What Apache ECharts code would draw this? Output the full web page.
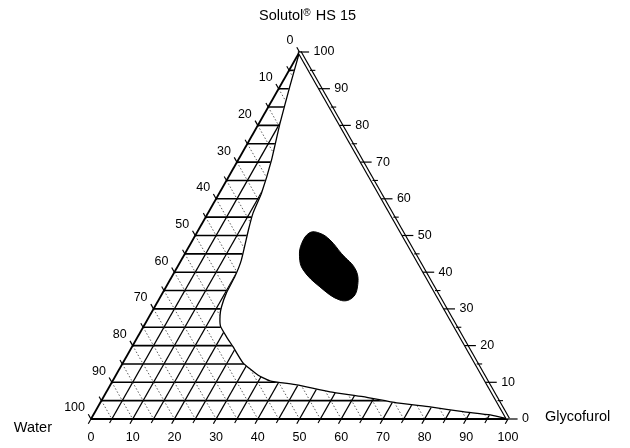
<!DOCTYPE html>
<html><head><meta charset="utf-8">
<script src="https://cdn.jsdelivr.net/npm/echarts@6/dist/echarts.min.js"></script>
<style>html,body{margin:0;padding:0;background:#fff}#c{width:630px;height:448px}</style>
</head><body><div id="c"></div>
<script>
// ---- vertex names ----
const titleMain = 'Solutol';
const titleSup = '®';
const titleRest = ' HS 15';
const leftName = 'Water';
const rightName = 'Glycofurol';

// ---- tick values (percent) ----
const majorTicks = [0, 10, 20, 30, 40, 50, 60, 70, 80, 90, 100];
const minorTicks = [5, 15, 25, 35, 45, 55, 65, 75, 85, 95];
const gridSteps = [5, 10, 15, 20, 25, 30, 35, 40, 45, 50, 55, 60, 65, 70, 75, 80, 85, 90, 95];

// ---- phase boundary of hatched region (Solutol %, Glycofurol %; Water = rest) ----
const boundarySolutol = [100, 90.5, 80.7, 70.6, 61.6, 56.1, 51.5, 43.3, 38.8, 34.3, 30.6, 28.3, 25.3, 22.4, 19.7, 15.3, 12.0, 10.4, 9.3, 7.4, 6.1, 4.4, 3.3, 2.0, 1.1, 0];
const boundaryGlycofurol = [0, 2.4, 5.0, 8.0, 10.1, 10.8, 12.0, 14.4, 15.1, 15.3, 16.0, 16.8, 18.4, 21.3, 24.2, 28.8, 34.0, 37.7, 44.7, 53.6, 62.2, 71.1, 79.7, 88.2, 95.2, 100];

// ---- black region (Solutol %, Glycofurol %) ----
const blobSolutol = [50.8, 47.9, 44.2, 40.6, 36.0, 32.4, 32.9, 36.0, 40.6, 45.1, 48.8, 50.6];
const blobGlycofurol = [27.1, 26.6, 27.9, 30.6, 36.9, 43.5, 46.1, 45.9, 43.2, 37.5, 32.9, 29.6];

const FONT = "'Liberation Sans', Arial, Helvetica, sans-serif";
function xy(s, g) { return [g + s / 2, s]; }
function P(api, s, g) { return api.coord(xy(s, g)); }
function seg(a, b, style) { return { type: 'line', shape: { x1: a[0], y1: a[1], x2: b[0], y2: b[1] }, style: style }; }
function txt(p, dx, dy, text, align, size, extra) {
  return { type: 'text', x: p[0] + dx, y: p[1] + dy,
    style: Object.assign({ text: String(text), fill: '#000', font: size + 'px ' + FONT,
      align: align, verticalAlign: 'middle', textAlign: align, textVerticalAlign: 'middle' }, extra || {}) };
}

const chart = echarts.init(document.getElementById('c'), null, { renderer: 'canvas' });

const series = [
  { // full triangular grid
    type: 'custom', coordinateSystem: 'cartesian2d', silent: true, clip: false, z: 1,
    data: gridSteps.map(v => [v]),
    renderItem: function (params, api) {
      const v = api.value(0);
      return { type: 'group', children: [
        seg(P(api, 100 - v, 0), P(api, 0, 100 - v), { stroke: '#333', lineWidth: 0.8, lineDash: [1.5, 2] }),
        seg(P(api, v, 0), P(api, v, 100 - v), { stroke: '#000', lineWidth: 1.6 }),
        seg(P(api, 0, v), P(api, 100 - v, v), { stroke: '#000', lineWidth: 1.3 })
      ] };
    }
  },
  { // white cover outside hatched region + boundary line
    type: 'custom', coordinateSystem: 'cartesian2d', silent: true, clip: false, z: 2,
    data: [[0]],
    renderItem: function (params, api) {
      const pts = boundarySolutol.map((s, i) => P(api, s, boundaryGlycofurol[i]));
      return { type: 'group', children: [
        { type: 'polygon', shape: { points: pts }, style: { fill: '#fff', stroke: '#fff', lineWidth: 1 } },
        { type: 'polyline', shape: { points: pts, smooth: 0.15 }, style: { fill: null, stroke: '#000', lineWidth: 1.3 } }
      ] };
    }
  },
  { // triangle edges
    type: 'custom', coordinateSystem: 'cartesian2d', silent: true, clip: false, z: 3,
    data: [[0]],
    renderItem: function (params, api) {
      const A = P(api, 100, 0), W = P(api, 0, 0), G = P(api, 0, 100);
      return { type: 'group', children: [
        seg(W, A, { stroke: '#000', lineWidth: 1.8 }),
        seg(W, G, { stroke: '#000', lineWidth: 1.8 }),
        seg(A, G, { stroke: '#000', lineWidth: 4.4 }),
        seg(A, G, { stroke: '#fff', lineWidth: 2 })
      ] };
    }
  },
  { // major ticks + labels
    type: 'custom', coordinateSystem: 'cartesian2d', silent: true, clip: false, z: 4,
    data: majorTicks.map(v => [v]),
    renderItem: function (params, api) {
      const v = api.value(0);
      const st = { stroke: '#000', lineWidth: 1.2 };
      const le = P(api, 100 - v, 0), be = P(api, 0, v), re = P(api, v, 100 - v);
      return { type: 'group', children: [
        seg(le, P(api, 100 - v + 1.3, -1.3), st),
        seg(be, P(api, -1.3, v), st),
        seg(P(api, v, 100 - v - 0.4), P(api, v, 100 - v + 2.3), st),
        txt(le, -6, -11, v, 'right', 12.5),
        txt(be, 0, 19, v, 'center', 12.5),
        txt(re, 14, 0, v, 'left', 12.5)
      ] };
    }
  },
  { // minor ticks
    type: 'custom', coordinateSystem: 'cartesian2d', silent: true, clip: false, z: 4,
    data: minorTicks.map(v => [v]),
    renderItem: function (params, api) {
      const v = api.value(0);
      const st = { stroke: '#000', lineWidth: 1.1 };
      return { type: 'group', children: [
        seg(P(api, 100 - v, 0), P(api, 100 - v + 1.1, -1.1), st),
        seg(P(api, 0, v), P(api, -1.1, v), st),
        seg(P(api, v, 100 - v), P(api, v, 100 - v + 1.3), st)
      ] };
    }
  },
  { // black region
    type: 'custom', coordinateSystem: 'cartesian2d', silent: true, clip: false, z: 5,
    data: [[0]],
    renderItem: function (params, api) {
      const pts = blobSolutol.map((s, i) => P(api, s, blobGlycofurol[i]));
      return { type: 'polygon', shape: { points: pts, smooth: 0.4 }, style: { fill: '#000', stroke: '#000', lineWidth: 1 } };
    }
  },
  { // vertex names
    type: 'custom', coordinateSystem: 'cartesian2d', silent: true, clip: false, z: 6,
    data: [[0]],
    renderItem: function (params, api) {
      const A = P(api, 100, 0), W = P(api, 0, 0), G = P(api, 0, 100);
      return { type: 'group', children: [
        txt(A, 8, -36, titleMain + '{sup|' + titleSup + '}' + titleRest, 'center', 14.5, {
          rich: { sup: { fontSize: 10, fontFamily: 'Liberation Sans', verticalAlign: 'top', padding: [0, 1, 6, 0], fill: '#000' } } }),
        txt(W, -39, 9, leftName, 'right', 14.5),
        txt(G, 37, -2, rightName, 'left', 14.5)
      ] };
    }
  }
];

chart.setOption({
  animation: false,
  backgroundColor: '#fff',
  grid: { left: 91, right: 122, top: 52, bottom: 29, containLabel: false },
  xAxis: { type: 'value', min: 0, max: 100, show: false },
  yAxis: { type: 'value', min: 0, max: 100, show: false },
  series: series
});
</script>
</body></html>
